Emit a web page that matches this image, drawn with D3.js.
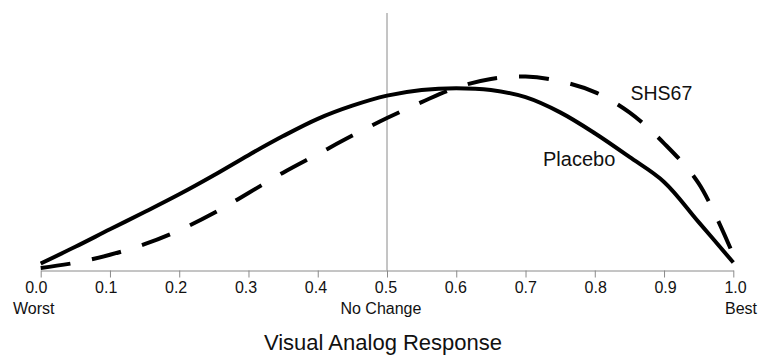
<!DOCTYPE html>
<html>
<head>
<meta charset="utf-8">
<script src="https://cdn.jsdelivr.net/npm/d3@7"></script>
<style>
  body { margin: 0; background: #fff; }
  text { font-family: "Liberation Sans", Arial, sans-serif; fill: #111; }
</style>
</head>
<body>
<div id="chart"></div>
<script>
// Visual analog response distributions, Placebo vs SHS67
var svgWidth = 758;
var svgHeight = 356;

// data (relative density, arbitrary units)
var vasX = [0, 0.05, 0.1, 0.15, 0.2, 0.25, 0.3, 0.35, 0.4, 0.45, 0.5,
            0.55, 0.6, 0.65, 0.7, 0.75, 0.8, 0.85, 0.9, 0.95, 1.0];
var placebo = [0.027, 0.092, 0.160, 0.227, 0.296, 0.370, 0.448, 0.522, 0.589, 0.640, 0.679,
               0.701, 0.708, 0.701, 0.673, 0.614, 0.533, 0.441, 0.344, 0.188, 0.031];
var shs67 = [0.010, 0.030, 0.061, 0.102, 0.156, 0.223, 0.301, 0.380, 0.452, 0.524, 0.592,
             0.654, 0.710, 0.744, 0.753, 0.735, 0.693, 0.614, 0.494, 0.338, 0.060];
var tickValues = [0, 0.1, 0.2, 0.3, 0.4, 0.5, 0.6, 0.7, 0.8, 0.9, 1.0];
var anchorValues = [0, 0.5, 1.0];
var anchorLabels = ["Worst", "No Change", "Best"];
var seriesNames = ["Placebo", "SHS67"];
var xTitle = "Visual Analog Response";

var svg = d3.select("#chart")
  .append("svg")
  .attr("width", svgWidth)
  .attr("height", svgHeight);

var x = d3.scaleLinear().domain([0, 1]).range([40.7, 733.3]);
var y = d3.scaleLinear().domain([0, 1]).range([270.5, 13]);
// tick labels sit on a slightly wider spread than the ticks
var xLabel = d3.scaleLinear().domain([0, 1]).range([35.8, 735]);

// reference line at "no change"
svg.append("line")
  .attr("x1", x(0.5)).attr("x2", x(0.5))
  .attr("y1", y(1)).attr("y2", y(0))
  .attr("stroke", "#8a8a8a")
  .attr("stroke-width", 1);

// x axis
var xAxis = svg.append("g")
  .attr("transform", `translate(0, ${y(0)})`)
  .call(d3.axisBottom(x)
    .tickValues(tickValues)
    .tickSize(7)
    .tickSizeOuter(0)
    .tickFormat(d3.format(".1f")));

xAxis.select(".domain").attr("stroke", "#8a8a8a");
xAxis.selectAll(".tick line").attr("stroke", "#8a8a8a");
xAxis.selectAll(".tick text")
  .attr("font-size", "16px")
  .attr("font-family", "Liberation Sans, Arial, sans-serif")
  .attr("fill", "#111")
  .attr("y", 11.5)
  .attr("x", d => xLabel(d) - x(d));

// Worst / No Change / Best under the ticks
var anchorShift = [-2, -4.5, 6];
svg.selectAll(".anchor")
  .data(anchorValues)
  .enter()
  .append("text")
  .attr("class", "anchor")
  .attr("x", (d, i) => xLabel(d) + anchorShift[i])
  .attr("y", 314)
  .attr("text-anchor", "middle")
  .attr("font-size", "16px")
  .text((d, i) => anchorLabels[i]);

// axis title
svg.append("text")
  .attr("x", 383)
  .attr("y", 350)
  .attr("text-anchor", "middle")
  .attr("font-size", "22px")
  .text(xTitle);

// curves
var line = d3.line()
  .x((d, i) => x(vasX[i]))
  .y(d => y(d))
  .curve(d3.curveCatmullRom.alpha(0.5));

svg.append("path")
  .datum(placebo)
  .attr("d", line)
  .attr("fill", "none")
  .attr("stroke", "#000")
  .attr("stroke-width", 4);

svg.append("path")
  .datum(shs67)
  .attr("d", line)
  .attr("fill", "none")
  .attr("stroke", "#000")
  .attr("stroke-width", 4)
  .attr("stroke-dasharray", "30,22");

// series labels
svg.append("text")
  .attr("x", 543)
  .attr("y", 166)
  .attr("font-size", "20px")
  .text(seriesNames[0]);

svg.append("text")
  .attr("x", 630.5)
  .attr("y", 100)
  .attr("font-size", "19.5px")
  .text(seriesNames[1]);
</script>
</body>
</html>
